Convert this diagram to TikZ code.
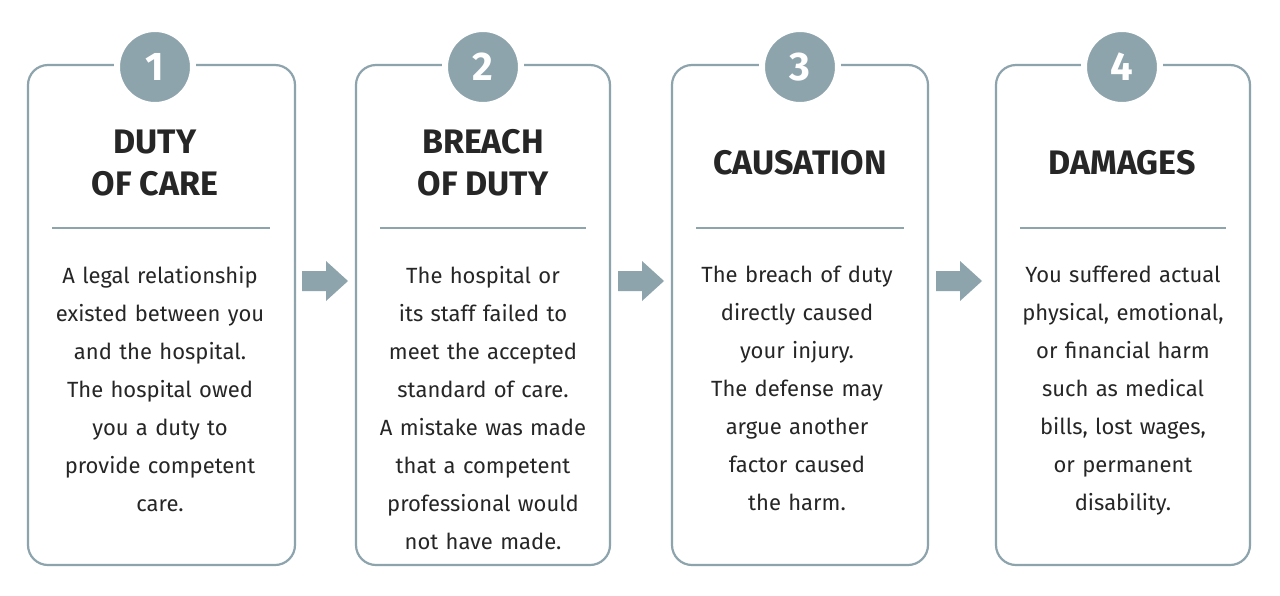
\documentclass[tikz,border=0pt]{standalone}
\usepackage{fontspec}
\setmainfont{Fira Sans}
\definecolor{slate}{RGB}{141,164,173}
\definecolor{ink}{RGB}{38,38,38}
\tikzset{
  card/.style={draw=slate,line width=2.2pt,rounded corners=20pt},
  badge/.style={circle,fill=slate,draw=white,line width=6pt,minimum size=76pt,inner sep=0pt,
    text=white,font=\fontsize{40}{40}\selectfont\bfseries},
  title/.style={align=center,text=ink,inner sep=0pt,font=\fontsize{34}{42}\selectfont\bfseries},
  body/.style={anchor=north,align=center,text=ink,inner sep=0pt,text width=250pt,
    font=\fontsize{22}{38}\selectfont},
}
\newcommand{\nextstep}[1]{%
  \fill[slate] ([shift={(-23,-10)}]#1) -- ++(24,0) -- ++(0,-10) -- ++(22,20)
    -- ++(-22,20) -- ++(0,-10) -- ++(-24,0) -- cycle;}
\begin{document}
\begin{tikzpicture}[x=1pt,y=-1pt]
\useasboundingbox[fill=white] (0,0) rectangle (1280,595);

% cards
\draw[card] (28,65) rectangle (295,565);
\draw[card] (356,65) rectangle (610,565);
\draw[card] (672,65) rectangle (928,565);
\draw[card] (996,65) rectangle (1250,565);

% dividers
\draw[slate,line width=2pt] (52,228) -- (270,228);
\draw[slate,line width=2pt] (380,228) -- (586,228);
\draw[slate,line width=2pt] (696,228) -- (904,228);
\draw[slate,line width=2pt] (1020,228) -- (1226,228);

% number badges
\node[badge] (n1) at (155,67) {1};
\node[badge] (n2) at (483,67) {2};
\node[badge] (n3) at (800,67) {3};
\node[badge] (n4) at (1122,67) {4};

% titles
\node[title] (t1) at (155,163) {DUTY\\OF CARE};
\node[title] (t2) at (483,163) {BREACH\\OF DUTY};
\node[title] (t3) at (800,163) {CAUSATION};
\node[title] (t4) at (1122,163) {DAMAGES};

% texts
\node[body] (b1) at (160,266) {A legal relationship\\existed between you\\and the hospital.\\The hospital owed\\you a duty to\\provide competent\\care.};
\node[body] (b2) at (483,266) {The hospital or\\its staff failed to\\meet the accepted\\standard of care.\\A mistake was made\\that a competent\\professional would\\not have made.};
\node[body] (b3) at (797,266) {The breach of duty\\directly caused\\your injury.\\The defense may\\argue another\\factor caused\\the harm.};
\node[body] (b4) at (1123,266) {You suffered actual\\physical, emotional,\\or financial harm\\such as medical\\bills, lost wages,\\or permanent\\disability.};

% arrows between steps
\coordinate (a1) at (325,281);
\coordinate (a2) at (641,281);
\coordinate (a3) at (959,281);
\nextstep{a1}
\nextstep{a2}
\nextstep{a3}
\end{tikzpicture}
\end{document}
